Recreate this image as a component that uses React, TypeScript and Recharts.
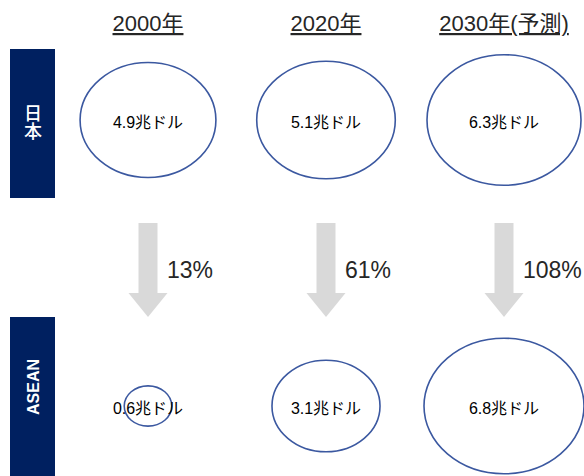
import { Scatter, ScatterChart, XAxis, YAxis, ZAxis } from "recharts";

// GDP in trillion USD, Japan vs ASEAN
const years = ["2000年", "2020年", "2030年(予測)"];
const japanGdp = [4.9, 5.1, 6.3];
const aseanGdp = [0.6, 3.1, 6.8];
// ASEAN GDP as a share of Japan's (%)
const aseanShare = [13, 61, 108];
const regions = ["ASEAN", "日本"]; // row 0, row 1

const japanData = japanGdp.map((value, col) => ({ col, row: 1, value }));
const aseanData = aseanGdp.map((value, col) => ({
  col,
  row: 0,
  value,
  share: aseanShare[col]
}));

const NAVY = "#002060";
const RING = "#3b58a0";
const ARROW = "#d9d9d9";
const FONT = "'Liberation Sans', Arial, 'Noto Sans CJK JP', sans-serif";
const ASPECT = 1.18;

const Bubble = (props: any) => {
  const { cx, cy, width, payload } = props;
  const r = width / 2;
  return (
    <g>
      <ellipse
        cx={cx}
        cy={cy}
        rx={r * ASPECT}
        ry={r}
        fill="none"
        stroke={RING}
        strokeWidth={1.6}
      />
      <text
        x={cx}
        y={cy + 2}
        textAnchor="middle"
        dominantBaseline="central"
        fontFamily={FONT}
        fontSize={16}
        fill="#000"
      >
        {`${payload.value}兆ドル`}
      </text>
    </g>
  );
};

// ASEAN bubble, with the share arrow coming down from the Japan row
const AseanBubble = (props: any) => {
  const { cx, cy, payload } = props;
  const top = cy - 183;
  const neck = cy - 113;
  const tip = cy - 89;
  return (
    <g>
      <path
        d={`M${cx - 9.5},${top} H${cx + 9.5} V${neck} H${cx + 19.5} L${cx},${tip} L${cx - 19.5},${neck} H${cx - 9.5} Z`}
        fill={ARROW}
      />
      <text
        x={cx + 19}
        y={cy - 128}
        fontFamily={FONT}
        fontSize={23}
        fill="#262626"
      >
        {`${payload.share}%`}
      </text>
      <Bubble {...props} />
    </g>
  );
};

const YearTick = ({ x, payload }: any) => (
  <text
    x={x}
    y={31}
    textAnchor="middle"
    fontFamily={FONT}
    fontSize={22}
    fill="#262626"
    textDecoration="underline"
  >
    {years[payload.value]}
  </text>
);

const RegionTick = ({ y, payload }: any) => {
  const isJapan = payload.value === 1;
  const boxTop = isJapan ? y - 71 : y - 89;
  const boxHeight = isJapan ? 149 : 170;
  return (
    <g>
      <rect x={10} y={boxTop} width={45} height={boxHeight} fill={NAVY} />
      {isJapan ? (
        <text
          x={33}
          y={y + 2}
          textAnchor="middle"
          writingMode="vertical-rl"
          fontFamily="'Noto Sans CJK JP', sans-serif"
          fontWeight={500}
          fontSize={18}
          fill="#fff"
        >
          {regions[payload.value]}
        </text>
      ) : (
        <text
          x={33}
          y={y - 19}
          transform={`rotate(-90 33 ${y - 19})`}
          textAnchor="middle"
          dominantBaseline="central"
          fontFamily={FONT}
          fontWeight="bold"
          fontSize={16}
          fill="#fff"
        >
          {regions[payload.value]}
        </text>
      )}
    </g>
  );
};

export default function App() {
  return (
    <div style={{ position: "absolute", left: 0, top: 0, background: "#fff" }}>
      <ScatterChart
        width={584}
        height={476}
        margin={{ top: 90, right: 80, bottom: 70, left: 0 }}
      >
        <XAxis
          type="number"
          dataKey="col"
          orientation="top"
          domain={[0, 2]}
          ticks={[0, 1, 2]}
          height={30}
          axisLine={false}
          tickLine={false}
          tick={<YearTick />}
        />
        <YAxis
          type="number"
          dataKey="row"
          domain={[0, 1]}
          ticks={[0, 1]}
          width={148}
          axisLine={false}
          tickLine={false}
          tick={<RegionTick />}
        />
        <ZAxis
          type="number"
          dataKey="value"
          domain={[0, 7]}
          range={[0, 7 * Math.PI * 26 * 26]}
        />
        <Scatter data={japanData} shape={<Bubble />} isAnimationActive={false} />
        <Scatter data={aseanData} shape={<AseanBubble />} isAnimationActive={false} />
      </ScatterChart>
    </div>
  );
}
